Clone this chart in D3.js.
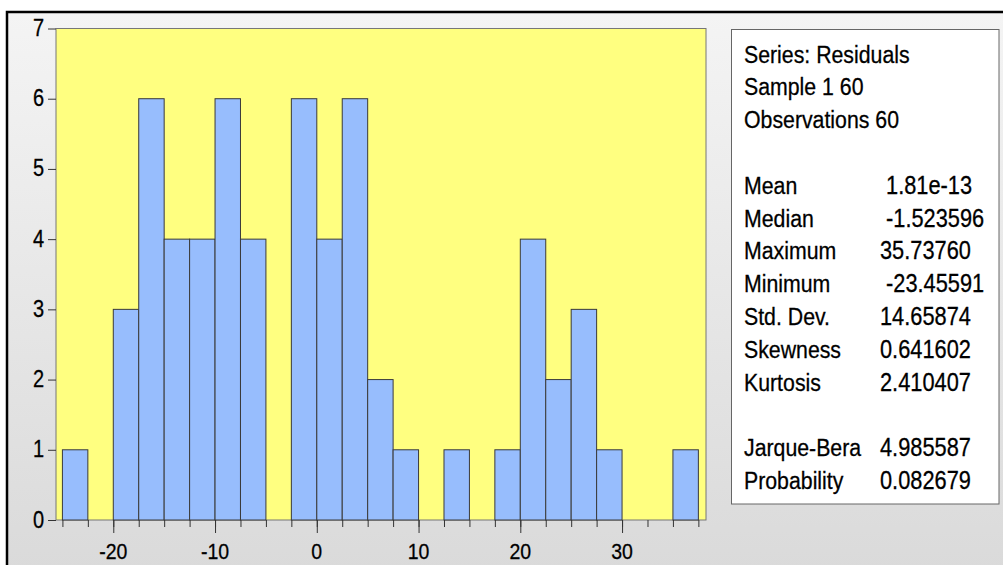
<!DOCTYPE html>
<html>
<head>
<meta charset="utf-8">
<script src="https://cdn.jsdelivr.net/npm/d3@7"></script>
<style>
  body { margin: 0; background: #fff; }
  svg { display: block; font-family: "Liberation Sans", Arial, sans-serif; }
</style>
</head>
<body>
<svg id="chart" width="1003" height="565"></svg>
<script>
// histogram bins (left edges) and counts
const binEdges = [-25, -22.5, -20, -17.5, -15, -12.5, -10, -7.5, -5, -2.5, 0, 2.5, 5, 7.5,
                  10, 12.5, 15, 17.5, 20, 22.5, 25, 27.5, 30, 32.5, 35, 37.5];
const counts = [1, 0, 3, 6, 4, 4, 6, 4, 0, 6, 4, 6, 2, 1, 0, 1, 0, 1, 4, 2, 3, 1, 0, 0, 1];
const xTickLabels = [-20, -10, 0, 10, 20, 30];
const yTicks = [0, 1, 2, 3, 4, 5, 6, 7];

const headerLines = ["Series: Residuals", "Sample 1 60", "Observations 60"];
const statLabels = ["Mean", "Median", "Maximum", "Minimum", "Std. Dev.", "Skewness", "Kurtosis"];
const statValues = [" 1.81e-13", " -1.523596", "35.73760", " -23.45591", "14.65874", "0.641602", "2.410407"];
const testLabels = ["Jarque-Bera", "Probability"];
const testValues = ["4.985587", "0.082679"];

const svg = d3.select("#chart");
const plot = { left: 56, right: 706, top: 28.5, bottom: 520 };
const sy = 1.15; // text looks vertically stretched in the original

// background
const defs = svg.append("defs");
const grad = defs.append("linearGradient").attr("id", "bg").attr("x1", 0).attr("y1", 0).attr("x2", 0).attr("y2", 1);
grad.append("stop").attr("offset", "0%").attr("stop-color", "#f4f4f4");
grad.append("stop").attr("offset", "100%").attr("stop-color", "#dadada");

svg.append("rect").attr("x", 7).attr("y", 12).attr("width", 1000).attr("height", 560).attr("fill", "url(#bg)");
svg.append("path").attr("d", "M7,566 V12 H1003").attr("fill", "none").attr("stroke", "#000").attr("stroke-width", 2.5);

const x = d3.scaleLinear().domain([-25.63, 38.25]).range([plot.left, plot.right]);
const y = d3.scaleLinear().domain([0, 7]).range([plot.bottom, plot.top]);

// plot area
svg.append("rect")
    .attr("x", plot.left).attr("y", plot.top)
    .attr("width", plot.right - plot.left).attr("height", plot.bottom - plot.top)
    .attr("fill", "#ffff80").attr("stroke", "#777").attr("stroke-width", 1);

// bars
const bins = counts.map((c, i) => ({ x0: binEdges[i], x1: binEdges[i + 1], n: c })).filter(d => d.n > 0);
svg.selectAll(".bar")
    .data(bins)
    .enter()
    .append("rect")
    .attr("class", "bar")
    .attr("x", d => x(d.x0))
    .attr("y", d => y(d.n))
    .attr("width", d => x(d.x1) - x(d.x0))
    .attr("height", d => y(0) - y(d.n))
    .attr("fill", "#97bdfd")
    .attr("stroke", "#3a3a3a")
    .attr("stroke-width", 1);

// x axis: minor ticks at every bin edge, longer ticks at labels
svg.append("g")
    .attr("transform", `translate(0, ${plot.bottom})`)
    .call(d3.axisBottom(x).tickValues(binEdges).tickSize(7).tickFormat(""))
    .call(g => g.select(".domain").remove())
    .call(g => g.selectAll("line").attr("stroke", "#333"));

svg.append("g")
    .attr("transform", `translate(0, ${plot.bottom})`)
    .call(d3.axisBottom(x).tickValues(xTickLabels).tickSize(13).tickFormat(""))
    .call(g => g.select(".domain").remove())
    .call(g => g.selectAll("line").attr("stroke", "#333"));

svg.selectAll(".xlab")
    .data(xTickLabels)
    .enter()
    .append("text")
    .attr("class", "xlab")
    .attr("transform", d => `translate(${x(d)}, 558.5) scale(1, ${sy})`)
    .attr("text-anchor", "middle")
    .attr("font-size", 19.5)
    .attr("fill", "#000")
    .attr("stroke", "#000").attr("stroke-width", 0.25)
    .text(d => d);

// y axis
svg.append("g")
    .attr("transform", `translate(${plot.left}, 0)`)
    .call(d3.axisLeft(y).tickValues(yTicks).tickSize(8).tickFormat(""))
    .call(g => g.select(".domain").remove())
    .call(g => g.selectAll("line").attr("stroke", "#333"));

svg.selectAll(".ylab")
    .data(yTicks)
    .enter()
    .append("text")
    .attr("class", "ylab")
    .attr("transform", d => `translate(44, ${y(d) + 7.5}) scale(1, ${sy})`)
    .attr("text-anchor", "end")
    .attr("font-size", 20)
    .attr("fill", "#000")
    .attr("stroke", "#000").attr("stroke-width", 0.25)
    .text(d => d);

// statistics box
svg.append("rect")
    .attr("x", 731.5).attr("y", 29.5).attr("width", 267.5).attr("height", 474.5)
    .attr("fill", "#fff").attr("stroke", "#666").attr("stroke-width", 1);

const rows = [];
headerLines.forEach(t => rows.push([t, ""]));
rows.push(["", ""]);
statLabels.forEach((t, i) => rows.push([t, statValues[i]]));
rows.push(["", ""]);
testLabels.forEach((t, i) => rows.push([t, testValues[i]]));

const lineY = i => 62.5 + i * 32.8;
const rowG = svg.selectAll(".row")
    .data(rows)
    .enter()
    .append("g")
    .attr("class", "row");

rowG.append("text")
    .attr("transform", (d, i) => `translate(744, ${lineY(i)}) scale(1, ${sy})`)
    .attr("font-size", 21.3)
    .attr("fill", "#000")
    .attr("stroke", "#000").attr("stroke-width", 0.25)
    .text(d => d[0]);

rowG.append("text")
    .attr("transform", (d, i) => `translate(880, ${lineY(i)}) scale(1, ${sy})`)
    .attr("font-size", 21.8)
    .attr("fill", "#000")
    .attr("stroke", "#000").attr("stroke-width", 0.25)
    .style("white-space", "pre")
    .text(d => d[1]);
</script>
</body>
</html>
